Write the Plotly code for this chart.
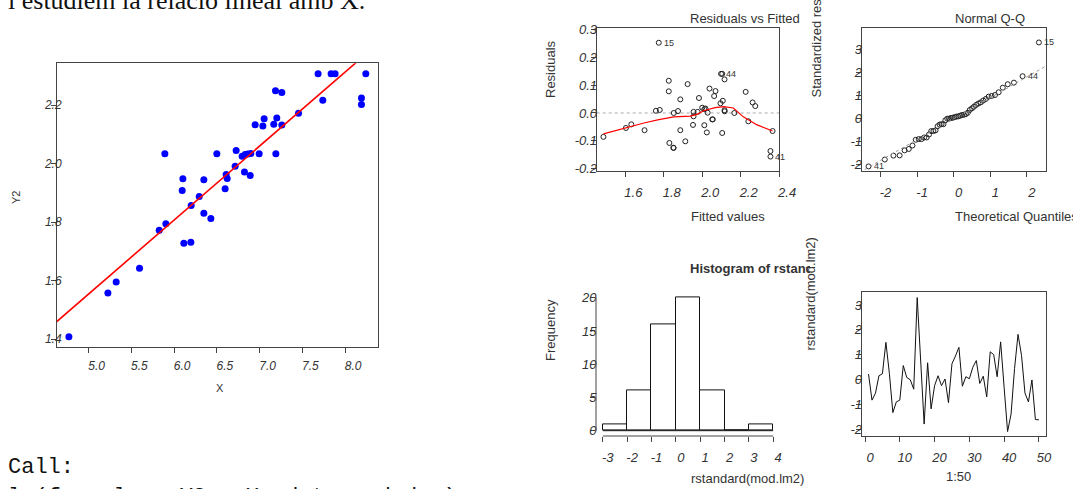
import plotly.graph_objects as go

W, H = 1073, 489

# ---------------- data ----------------
# left scatter: Y2 vs X
x_vals = [4.770, 5.226, 5.323, 5.596, 5.826, 5.904, 5.892, 6.114, 6.196, 6.095,
          6.103, 6.200, 6.294, 6.348, 6.348, 6.430, 6.500, 6.597, 6.609, 6.621,
          6.714, 6.726, 6.796, 6.831, 6.862, 6.897, 6.823, 6.890, 6.995, 6.948,
          7.038, 7.053, 7.166, 7.201, 7.190, 7.186, 7.260, 7.260, 7.455, 7.684,
          7.739, 7.836, 7.883, 8.191, 8.191, 8.242]
y2_vals = [1.408, 1.558, 1.595, 1.642, 1.772, 1.794, 2.034, 1.728, 1.731, 1.908,
           1.948, 1.857, 1.888, 1.830, 1.945, 1.812, 2.034, 1.914, 1.963, 1.949,
           1.991, 2.045, 2.025, 2.031, 2.033, 2.035, 1.971, 1.959, 2.034, 2.133,
           2.129, 2.153, 2.135, 2.156, 2.034, 2.249, 2.243, 2.132, 2.172, 2.307,
           2.217, 2.307, 2.307, 2.224, 2.202, 2.307]
lm_intercept = 0.289
lm_slope = 0.253

# Residuals vs Fitted
fitted = [1.486, 1.603, 1.631, 1.700, 1.759, 1.779, 1.774, 1.826, 1.826, 1.829,
          1.850, 1.851, 1.852, 1.874, 1.886, 1.886, 1.912, 1.924, 1.952, 1.955,
          1.955, 1.976, 1.983, 2.000, 2.011, 2.017, 2.011, 2.028, 2.024, 2.038,
          2.052, 2.055, 2.062, 2.069, 2.095, 2.107, 2.104, 2.098, 2.104, 2.116,
          2.116, 2.117, 2.167, 2.226, 2.240, 2.262, 2.276, 2.366, 2.355, 2.355]
residuals = [-0.086, -0.054, -0.041, -0.062, 0.008, 0.011, 0.253, 0.116, 0.078, -0.108,
             -0.125, -0.126, 0.000, 0.007, 0.049, -0.062, -0.102, 0.104, -0.043, 0.004,
             -0.012, 0.004, 0.054, 0.019, 0.014, 0.016, -0.044, 0.001, -0.070, 0.088,
             -0.023, -0.023, 0.061, 0.079, 0.035, 0.044, -0.072, 0.141, 0.141, 0.121,
             0.010, 0.006, 0.000, 0.076, -0.030, 0.038, 0.025, -0.065, -0.137, -0.157]
lowess_x = [1.486, 1.602, 1.697, 1.774, 1.852, 1.938, 1.973, 2.007, 2.067, 2.111,
            2.162, 2.214, 2.283, 2.366]
lowess_y = [-0.0755, -0.053, -0.036, -0.024, -0.014, -0.011, -0.005, 0.008, 0.019, 0.023,
            0.018, -0.014, -0.042, -0.065]
resid_labels = ["15", "44", "41"]
resid_label_x = [1.774, 2.098, 2.355]
resid_label_y = [0.253, 0.141, -0.157]

# Normal Q-Q
qq_theoretical = [-2.326, -1.881, -1.645, -1.476, -1.341, -1.227, -1.126, -1.036, -0.954, -0.878,
                  -0.806, -0.739, -0.674, -0.613, -0.553, -0.496, -0.440, -0.385, -0.332, -0.279,
                  -0.228, -0.176, -0.126, -0.075, -0.025, 0.025, 0.075, 0.126, 0.176, 0.228,
                  0.279, 0.332, 0.385, 0.440, 0.496, 0.553, 0.613, 0.674, 0.739, 0.806,
                  0.878, 0.954, 1.036, 1.126, 1.227, 1.341, 1.476, 1.645, 1.881, 2.326]
qq_sample = [-2.08, -1.78, -1.61, -1.60, -1.38, -1.32, -1.17, -0.92, -0.89, -0.89,
             -0.82, -0.82, -0.69, -0.54, -0.54, -0.51, -0.33, -0.26, -0.24, -0.24,
             -0.07, 0.00, 0.00, 0.03, 0.04, 0.07, 0.09, 0.10, 0.13, 0.16,
             0.17, 0.20, 0.26, 0.38, 0.45, 0.52, 0.60, 0.66, 0.71, 0.79,
             0.86, 0.96, 0.99, 1.03, 1.15, 1.35, 1.50, 1.57, 1.85, 3.32]
qq_line_intercept = 0.0
qq_line_slope = 0.91
qq_labels = ["15", "44", "41"]
qq_label_x = [2.326, 1.881, -2.326]
qq_label_y = [3.32, 1.85, -2.08]

# Histogram of rstandard(mod.lm2)
hist_breaks = [-3, -2, -1, 0, 1, 2, 3, 4]
hist_counts = [1, 6, 16, 20, 6, 0, 1]

# rstandard vs index
obs_index = list(range(1, 51))
rstd = [0.23, -0.82, -0.54, 0.16, 0.24, 1.50, 0.25, -1.32, -0.89, -0.82,
        0.57, 0.09, 0.00, -0.38, 3.30, 0.70, -1.78, 0.68, -1.17, -0.24,
        0.16, -0.24, 0.03, -0.92, 0.64, 0.95, 1.30, -0.26, 0.12, 0.04,
        0.50, 0.77, -0.15, 0.14, -0.69, 1.12, 1.01, 0.12, 1.52, -0.30,
        -2.08, -1.38, 0.45, 1.82, 0.98, -0.54, -0.89, -0.01, -1.60, -1.61]

# ticks
sc_xticks = [5.0, 5.5, 6.0, 6.5, 7.0, 7.5, 8.0]
sc_yticks = [1.4, 1.6, 1.8, 2.0, 2.2]
rv_xticks = [1.6, 1.8, 2.0, 2.2, 2.4]
rv_yticks = [-0.2, -0.1, 0.0, 0.1, 0.2, 0.3]
qq_xticks = [-2, -1, 0, 1, 2]
qq_yticks = [-2, -1, 0, 1, 2, 3]
hi_xticks = [-3, -2, -1, 0, 1, 2, 3, 4]
hi_yticks = [0, 5, 10, 15, 20]
ix_xticks = [0, 10, 20, 30, 40, 50]
ix_yticks = [-2, -1, 0, 1, 2, 3]

# ---------------- helpers ----------------
SANS = "Liberation Sans, Arial, Helvetica, sans-serif"
TXT = "#333333"
LINE = "#444444"


def fx(px):
    return px / W


def fy(py):
    return 1 - py / H


def labels(ticks, fmt):
    # plain ASCII hyphen for negatives, as in the R output
    return [format(v, fmt) for v in ticks]


def xaxis(dom, rng, ticks, fmt, anchor, shift, size=13, box=True, standoff=4):
    return dict(domain=[fx(dom[0]), fx(dom[1])], range=rng, anchor=anchor,
                tickmode="array", tickvals=ticks, ticktext=labels(ticks, fmt),
                ticks="outside", ticklen=5, tickcolor=LINE, tickwidth=1,
                showline=box, mirror=box, linecolor=LINE, linewidth=1,
                showgrid=False, zeroline=False, automargin=False,
                ticklabelshift=shift, ticklabelstandoff=standoff,
                tickfont=dict(family=SANS, size=size, color=TXT, style="italic"))


def yaxis(dom, rng, ticks, fmt, anchor, size=13, box=True, standoff=-9):
    return dict(domain=[fy(dom[1]), fy(dom[0])], range=rng, anchor=anchor,
                tickmode="array", tickvals=ticks, ticktext=labels(ticks, fmt),
                ticks="outside", ticklen=5, tickcolor=LINE, tickwidth=1,
                showline=box, mirror=box, linecolor=LINE, linewidth=1,
                showgrid=False, zeroline=False, automargin=False,
                ticklabelstandoff=standoff,
                tickfont=dict(family=SANS, size=size, color=TXT, style="italic"))


fig = go.Figure()

# ---- left scatter ----
fig.add_trace(go.Scatter(x=x_vals, y=y2_vals, mode="markers", xaxis="x", yaxis="y",
                         marker=dict(color="#0000FF", size=7), showlegend=False))
line_x = [sc_xticks[0] - 1, sc_xticks[-1] + 1]
fig.add_trace(go.Scatter(x=line_x, y=[lm_intercept + lm_slope * v for v in line_x],
                         mode="lines", xaxis="x", yaxis="y",
                         line=dict(color="#FF0000", width=1.6), showlegend=False))

# ---- residuals vs fitted ----
fig.add_trace(go.Scatter(x=fitted, y=residuals, mode="markers", xaxis="x2", yaxis="y2",
                         marker=dict(symbol="circle-open", color="#222222", size=5,
                                     line=dict(width=1, color="#222222")),
                         showlegend=False))
fig.add_trace(go.Scatter(x=lowess_x, y=lowess_y, mode="lines", xaxis="x2", yaxis="y2",
                         line=dict(color="#FF0000", width=1.2), showlegend=False))

# ---- QQ ----
fig.add_trace(go.Scatter(x=qq_theoretical, y=qq_sample, mode="markers", xaxis="x3", yaxis="y3",
                         marker=dict(symbol="circle-open", color="#222222", size=5,
                                     line=dict(width=1, color="#222222")),
                         showlegend=False))
qq_lx = [-3, 3]
fig.add_trace(go.Scatter(x=qq_lx, y=[qq_line_intercept + qq_line_slope * v for v in qq_lx],
                         mode="lines", xaxis="x3", yaxis="y3",
                         line=dict(color="#999999", width=1, dash="dot"), showlegend=False))

# ---- histogram ----
centers = [(hist_breaks[i] + hist_breaks[i + 1]) / 2 for i in range(len(hist_counts))]
widths = [hist_breaks[i + 1] - hist_breaks[i] for i in range(len(hist_counts))]
fig.add_trace(go.Bar(x=centers, y=hist_counts, width=widths, xaxis="x4", yaxis="y4",
                     marker=dict(color="white", line=dict(color="#111111", width=1)),
                     showlegend=False))

# ---- index plot ----
fig.add_trace(go.Scatter(x=obs_index, y=rstd, mode="lines", xaxis="x5", yaxis="y5",
                         line=dict(color="#111111", width=1), showlegend=False))

# domains (px)
SC_X, SC_Y = (57, 377.7), (63.3, 347.3)
RV_X, RV_Y = (596.7, 779.3), (28.3, 171.3)
QQ_X, QQ_Y = (861.7, 1045.7), (28, 171)
HI_X, HI_Y = (596, 780), (292.4, 436)
IX_X, IX_Y = (861.7, 1045.7), (292.3, 436)

layout = dict(
    width=W, height=H, margin=dict(l=0, r=0, t=0, b=0),
    paper_bgcolor="white", plot_bgcolor="white", showlegend=False, bargap=0,
    xaxis=xaxis(SC_X, [4.631, 8.381], sc_xticks, ".1f", "y", 8, size=12, standoff=2),
    yaxis=yaxis(SC_Y, [1.372, 2.343], sc_yticks, ".1f", "x", size=12, standoff=-13),
    xaxis2=xaxis(RV_X, [1.451, 2.401], rv_xticks, ".1f", "y2", 8),
    yaxis2=yaxis(RV_Y, [-0.21, 0.305], rv_yticks, ".1f", "x2"),
    xaxis3=xaxis(QQ_X, [-2.512, 2.512], qq_xticks, "d", "y3", 5),
    yaxis3=yaxis(QQ_Y, [-2.28, 3.95], qq_yticks, "d", "x3"),
    xaxis4=xaxis(HI_X, [-3.28, 4.28], hi_xticks, "d", "y4", 5, box=False),
    yaxis4=yaxis(HI_Y, [-0.8, 20.8], hi_yticks, "d", "x4", box=False),
    xaxis5=xaxis(IX_X, [-0.96, 51.96], ix_xticks, "d", "y5", 5),
    yaxis5=yaxis(IX_Y, [-2.26, 3.51], ix_yticks, "d", "x5"),
)
fig.update_layout(**layout)

# shapes: zero line, histogram axes, histogram baseline
fig.add_shape(type="line", xref="x2 domain", yref="y2", x0=0, x1=1, y0=0, y1=0,
              line=dict(color="#AAAAAA", width=1, dash="dot"), layer="below")
fig.add_shape(type="line", xref="x4", yref="y4 domain", x0=hi_xticks[0], x1=hi_xticks[-1],
              y0=0, y1=0, line=dict(color=LINE, width=1))
fig.add_shape(type="line", xref="x4 domain", yref="y4", x0=0, x1=0,
              y0=hi_yticks[0], y1=hi_yticks[-1], line=dict(color=LINE, width=1))
fig.add_shape(type="line", xref="x4", yref="y4", x0=hist_breaks[0], x1=hist_breaks[-1],
              y0=0, y1=0, line=dict(color="#111111", width=1))

ann = []


def text(s, px, py, size=13, xanchor="center", yanchor="middle", angle=0, bold=False,
         family=SANS, color=TXT, width=None):
    d = dict(text=("<b>%s</b>" % s) if bold else s, x=fx(px), y=fy(py), xref="paper", yref="paper",
             showarrow=False, xanchor=xanchor, yanchor=yanchor, textangle=angle,
             font=dict(family=family, size=size, color=color))
    if width is not None:
        d["width"] = width
        d["align"] = "left"
    ann.append(d)


# page text (cut at the edges)
text("i estudiem la relació lineal amb X.", 6, 0, size=26, xanchor="left",
     family="Liberation Serif, Times New Roman, serif", color="#111111")
text("Call:", 6, 467, size=22, xanchor="left",
     family="Liberation Mono, Courier New, monospace", color="#111111")
text("lm(formula = Y2 ~ X, data = dades)", 6, 497, size=22, xanchor="left",
     family="Liberation Mono, Courier New, monospace", color="#111111")

# left plot axis titles
text("X", 220, 388, size=11)
text("Y2", 16, 198, size=11, angle=-90)

# residuals vs fitted
text("Residuals vs Fitted", 688, 18, xanchor="left")
text("Residuals", 550, 100, angle=-90, yanchor="bottom")
text("Fitted values", 689, 217, xanchor="left")

# QQ
text("Normal Q-Q", 953, 19, xanchor="left")
text("Standardized residuals", 816, 100, angle=-90, yanchor="bottom")
text("Theoretical Quantiles", 953, 217, xanchor="left")

# histogram
text("Histogram of rstandard(mod.lm2)", 688, 268, xanchor="left", bold=True, width=120)
text("Frequency", 550, 363, angle=-90, yanchor="bottom")
text("rstandard(mod.lm2)", 689, 478, xanchor="left")

# index plot
text("rstandard(mod.lm2)", 810, 353, angle=-90, yanchor="bottom")
text("1:50", 958, 476)

# point labels
for s, xv, yv in zip(resid_labels, resid_label_x, resid_label_y):
    ann.append(dict(text=s, x=xv, y=yv, xref="x2", yref="y2", showarrow=False,
                    xanchor="left", yanchor="middle", xshift=3,
                    font=dict(family=SANS, size=9, color=TXT)))
for s, xv, yv in zip(qq_labels, qq_label_x, qq_label_y):
    ann.append(dict(text=s, x=xv, y=yv, xref="x3", yref="y3", showarrow=False,
                    xanchor="left", yanchor="middle", xshift=3,
                    font=dict(family=SANS, size=9, color=TXT)))

fig.update_layout(annotations=ann)
fig.write_html("out.html", config={"displayModeBar": False},
               post_script="document.body.style.margin='0';document.body.style.overflow='hidden';")
